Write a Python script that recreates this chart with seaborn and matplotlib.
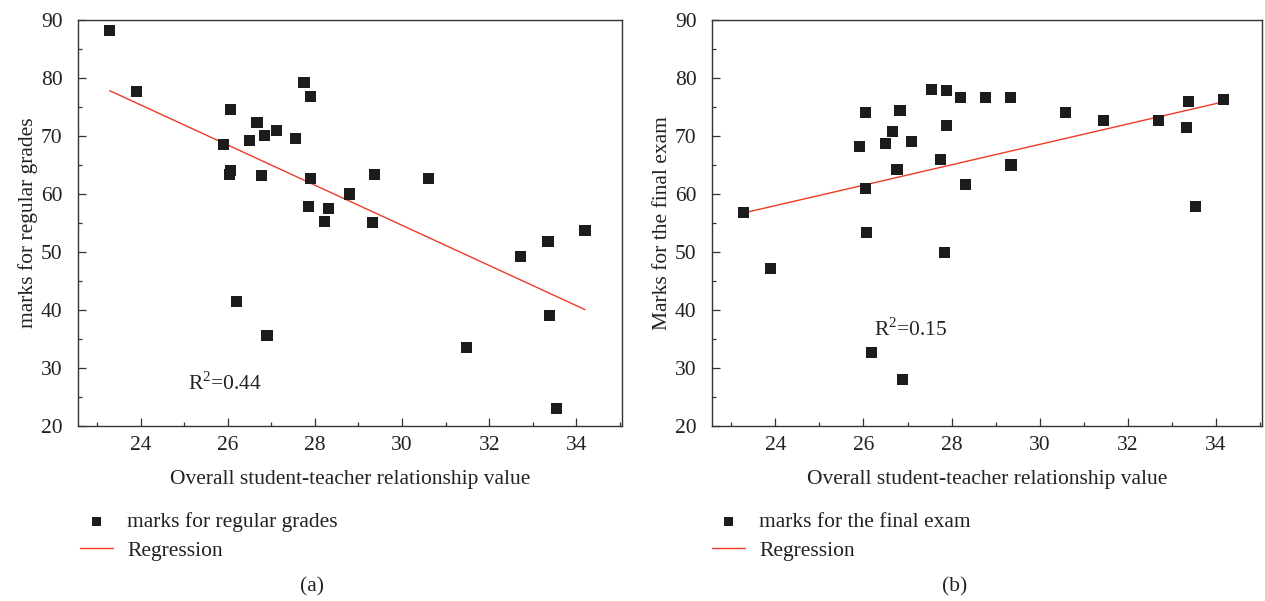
import matplotlib
matplotlib.use("Agg")
import matplotlib.pyplot as plt
import numpy as np
import seaborn as sns
from matplotlib.ticker import MultipleLocator

# relationship value (x) and marks (y)
x_regular = [23.29, 23.90, 26.07, 26.67, 27.11, 26.84, 26.49, 27.55, 25.91, 27.75,
             27.89, 26.07, 26.04, 26.77, 27.89, 29.36, 30.60, 28.79, 27.85, 28.32,
             28.21, 29.33, 32.71, 33.35, 34.20, 26.20, 26.90, 31.47, 33.39, 33.55]
y_regular = [88.2, 77.6, 74.5, 72.4, 71.0, 70.1, 69.3, 69.5, 68.6, 79.2,
             76.8, 64.1, 63.3, 63.2, 62.6, 63.3, 62.6, 60.0, 57.8, 57.5,
             55.2, 55.1, 49.3, 51.8, 53.7, 41.4, 35.6, 33.5, 39.1, 23.0]

x_final = [23.28, 23.88, 26.05, 26.04, 26.06, 25.90, 26.49, 26.65, 26.83, 27.10,
           26.76, 27.55, 27.88, 27.88, 27.75, 27.84, 28.21, 28.31, 28.78, 29.33,
           29.35, 30.59, 31.46, 32.69, 33.38, 33.34, 33.54, 34.18, 26.19, 26.89]
y_final = [56.8, 47.1, 74.0, 60.9, 53.3, 68.2, 68.7, 70.7, 74.4, 69.0,
           64.2, 78.0, 77.8, 71.8, 65.9, 49.9, 76.7, 61.7, 76.7, 76.7,
           65.0, 74.1, 72.6, 72.6, 76.0, 71.4, 57.8, 76.3, 32.6, 28.0]

panels = [
    dict(x=x_regular, y=y_regular, ylabel="marks for regular grades",
         series="marks for regular grades", r2="R$^2$=0.44", r2_pos=(25.08, 27.4), tag="(a)"),
    dict(x=x_final, y=y_final, ylabel="Marks for the final exam",
         series="marks for the final exam", r2="R$^2$=0.15", r2_pos=(26.24, 36.6), tag="(b)"),
]

sns.set_theme(style="ticks")
plt.rcParams["font.family"] = ["Liberation Serif", "DejaVu Serif"]
plt.rcParams["mathtext.fontset"] = "custom"
plt.rcParams["mathtext.rm"] = "Liberation Serif"
plt.rcParams["text.color"] = "#222222"
plt.rcParams["axes.labelcolor"] = "#222222"

MARK = "#1c1c1c"
RED = "#ee3b26"
FS = 15.5

fig = plt.figure(figsize=(12.65, 6.01), dpi=100)
axes = [fig.add_axes([78 / 1265, 1 - 426 / 601, 544 / 1265, 406 / 601]),
        fig.add_axes([712 / 1265, 1 - 426 / 601, 550 / 1265, 406 / 601])]
leg_x = [80 / 1265, 712 / 1265]
tag_x = [312 / 1265, 955 / 1265]

for ax, p, lx, tx in zip(axes, panels, leg_x, tag_x):
    sns.scatterplot(x=p["x"], y=p["y"], ax=ax, marker="s", s=64, color=MARK,
                    edgecolor="none", linewidth=0, label=p["series"], zorder=3)
    sns.regplot(x=np.array(p["x"]), y=np.array(p["y"]), ax=ax, scatter=False, ci=None,
                truncate=True, color=RED, line_kws=dict(lw=1.0), label="Regression")
    ax.set_xlim(22.56, 35.05)
    ax.set_ylim(20, 90)
    ax.xaxis.set_major_locator(MultipleLocator(2))
    ax.xaxis.set_minor_locator(MultipleLocator(1))
    ax.yaxis.set_major_locator(MultipleLocator(10))
    ax.yaxis.set_minor_locator(MultipleLocator(5))
    ax.tick_params(which="both", direction="in", colors="#333333", labelcolor="#222222",
                   labelsize=FS, width=0.9)
    ax.tick_params(which="major", length=5.5)
    ax.tick_params(which="minor", length=3)
    ax.tick_params(axis="x", which="both", pad=7)
    ax.tick_params(axis="y", which="both", pad=11)
    for s in ax.spines.values():
        s.set_visible(True)
        s.set_linewidth(1.0)
        s.set_color("#333333")
    ax.set_xlabel("Overall student-teacher relationship value", fontsize=FS, labelpad=11)
    ax.set_ylabel(p["ylabel"], fontsize=FS, labelpad=2)
    ax.text(p["r2_pos"][0], p["r2_pos"][1], p["r2"], fontsize=FS, va="center", ha="left")
    ax.legend(loc="upper left", bbox_to_anchor=(lx, 1 - 512 / 601), bbox_transform=fig.transFigure,
              frameon=False, fontsize=FS, handlelength=1.55, handletextpad=0.65,
              labelspacing=0.4, borderpad=0, borderaxespad=0, markerscale=0.8)
    fig.text(tx, 1 - 587 / 601, p["tag"], fontsize=FS, ha="center", va="center")

fig.savefig("out.png", dpi=100, facecolor="white")
